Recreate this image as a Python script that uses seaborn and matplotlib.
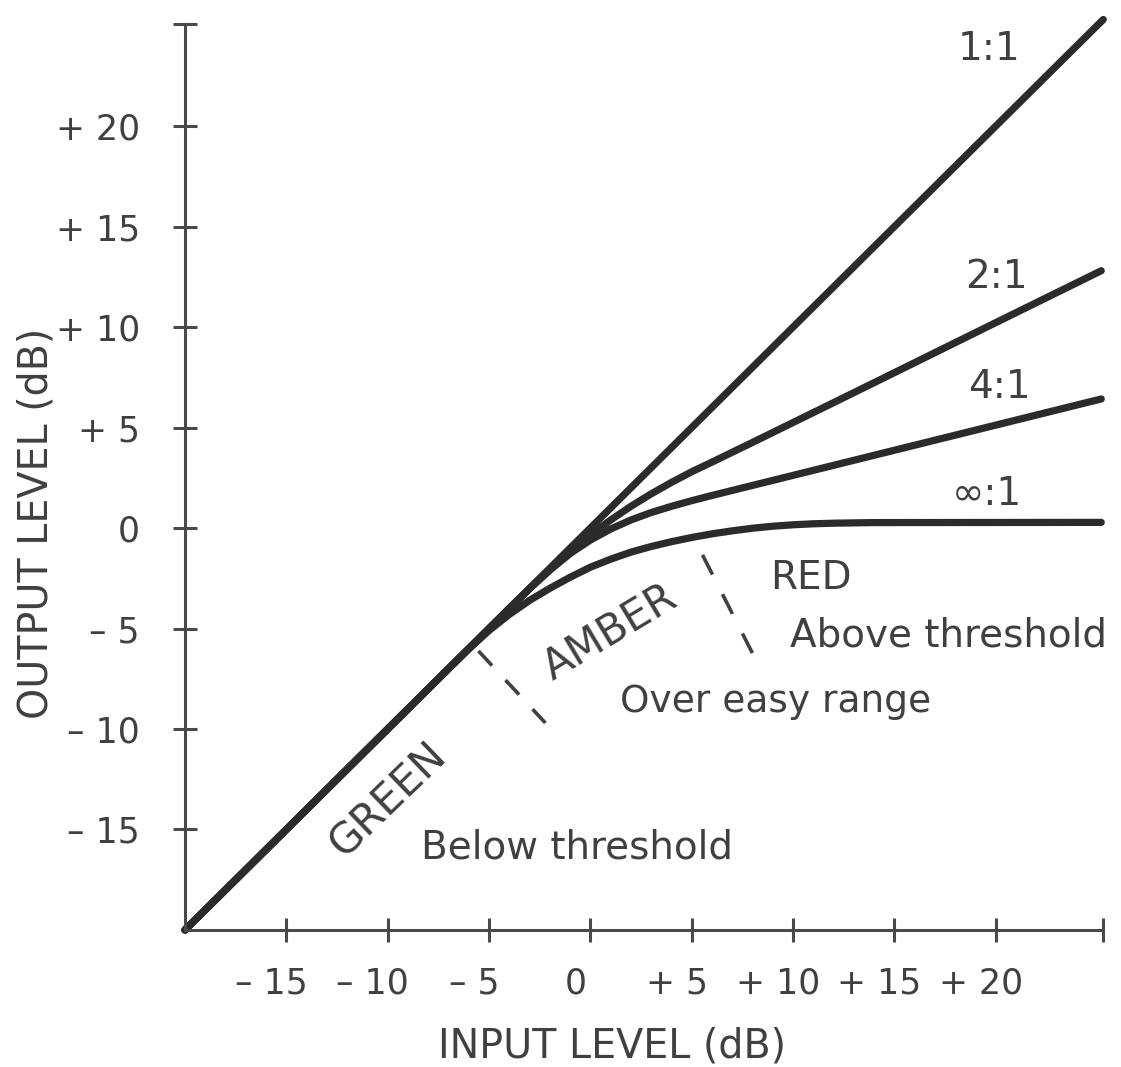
import matplotlib
matplotlib.use("Agg")
import matplotlib.pyplot as plt
import matplotlib.transforms as mtransforms
import pandas as pd
import seaborn as sns

# compressor transfer curves (input dB -> output dB)
in_1to1 = [-20, 25.3]
out_1to1 = [-20, 25.3]

in_2to1 = [-20, -4, -3, -2, -1, 0, 1, 2, 3, 4, 5, 6, 7, 8, 10, 12, 15, 20, 25.2]
out_2to1 = [-20, -4, -3.01, -2.06, -1.17, -0.35, 0.4, 1.08, 1.7, 2.27, 2.8, 3.28, 3.77, 4.26, 5.25, 6.24, 7.73, 10.22, 12.8]

in_4to1 = [-20, -4, -3, -2, -1, 0, 1, 2, 3, 4, 5, 6, 7, 8, 10, 12, 15, 20, 25.2]
out_4to1 = [-20, -4, -3.02, -2.1, -1.27, -0.6, -0.05, 0.4, 0.77, 1.08, 1.36, 1.62, 1.87, 2.12, 2.62, 3.12, 3.87, 5.12, 6.42]

in_inf = [-20, -7, -6, -5, -4, -3, -2, -1, 0, 1, 2, 3, 4, 5, 6, 7, 8, 9, 10, 11, 12, 14, 25.2]
out_inf = [-20, -7, -6.02, -5.1, -4.3, -3.6, -3.0, -2.45, -1.95, -1.55, -1.2, -0.92, -0.68, -0.47, -0.29, -0.14, -0.01, 0.09, 0.16, 0.21, 0.24, 0.27, 0.28]

# dashed region boundaries (green|amber, amber|red)
amber_edge_x = [-5.52, -2.22]
amber_edge_y = [-6.12, -9.7]
red_edge_x = [5.53, 7.99]
red_edge_y = [-1.34, -6.22]

x_ticks = [-15, -10, -5, 0, 5, 10, 15, 20]
x_tick_labels = ["– 15", "– 10", "– 5", "0", "+ 5", "+ 10", "+ 15", "+ 20"]
y_ticks = [-15, -10, -5, 0, 5, 10, 15, 20]
y_tick_labels = ["– 15", "– 10", "– 5", "0", "+ 5", "+ 10", "+ 15", "+ 20"]

INK = "#2b2b2b"
TEXT = "#404040"
AXIS = "#4a4a4a"

sns.set_theme(style="white")
plt.rcParams["font.family"] = ["DejaVu Sans"]

curves = pd.concat([
    pd.DataFrame({"input": in_1to1, "output": out_1to1, "ratio": "1:1"}),
    pd.DataFrame({"input": in_2to1, "output": out_2to1, "ratio": "2:1"}),
    pd.DataFrame({"input": in_4to1, "output": out_4to1, "ratio": "4:1"}),
    pd.DataFrame({"input": in_inf, "output": out_inf, "ratio": "∞:1"}),
], ignore_index=True)

fig = plt.figure(figsize=(11.21, 10.67), dpi=100)
ax = fig.add_axes([0.1650, 0.1284, 0.8228, 0.8571])

for ratio, grp in curves.groupby("ratio", sort=False):
    sns.lineplot(data=grp, x="input", y="output", color=INK, linewidth=5.2,
                 estimator=None, sort=False, ax=ax, clip_on=False,
                 solid_capstyle="round", solid_joinstyle="round")

sns.lineplot(x=amber_edge_x, y=amber_edge_y, color=TEXT, linewidth=2.6,
             linestyle=(0, (5.5, 5.5)), estimator=None, sort=False, ax=ax)
sns.lineplot(x=red_edge_x, y=red_edge_y, color=TEXT, linewidth=2.6,
             linestyle=(0, (6.1, 6.1)), estimator=None, sort=False, ax=ax)

ax.set_xlim(-20, 25.5)
ax.set_ylim(-20, 25.5)

# axes: only left and bottom, with crossing ticks and an end cap
sns.despine(ax=ax)
for side in ["left", "bottom"]:
    ax.spines[side].set_color(AXIS)
    ax.spines[side].set_linewidth(2.2)
ax.spines["left"].set_bounds(-20, 25.1)
ax.spines["bottom"].set_bounds(-20, 25.3)

ax.set_xticks(x_ticks + [25.3])
ax.set_xticklabels(x_tick_labels + [""])
ax.set_yticks(y_ticks + [25.1])
ax.set_yticklabels(y_tick_labels + [""])
ax.tick_params(axis="both", direction="inout", length=17, width=2.2,
               color=AXIS, labelcolor=TEXT, labelsize=25,
               bottom=True, left=True)
ax.tick_params(axis="x", pad=18)
ax.tick_params(axis="y", pad=24)
shift = mtransforms.ScaledTranslation(-0.15, 0, fig.dpi_scale_trans)
for lab in ax.get_xticklabels():
    lab.set_transform(lab.get_transform() + shift)

ax.set_xlabel("INPUT LEVEL (dB)", fontsize=28.5, color=TEXT)
ax.xaxis.set_label_coords(0.463, -0.106)
ax.set_ylabel("OUTPUT LEVEL (dB)", fontsize=28.5, color=TEXT, va="center")
ax.yaxis.set_label_coords(-0.1605, 0.445)

# ratio labels
for txt, x, y in [("1:1", 21.2, 23.3), ("2:1", 21.56, 11.94),
                  ("4:1", 21.71, 6.47), ("∞:1", 21.31, 1.14)]:
    ax.text(x, y, txt, fontsize=28, color=TEXT, ha="right", va="baseline")

# region labels
ax.text(-9.97, -13.53, "GREEN", fontsize=30, color=TEXT, rotation=44,
        rotation_mode="anchor", ha="center", va="center")
ax.text(0.99, -5.22, "AMBER", fontsize=30, color=TEXT, rotation=31,
        rotation_mode="anchor", ha="center", va="center")
ax.text(8.88, -3.05, "RED", fontsize=28, color=TEXT, ha="left", va="baseline")
ax.text(9.87, -5.92, "Above threshold", fontsize=28, color=TEXT, ha="left", va="baseline")
ax.text(1.48, -9.15, "Over easy range", fontsize=27, color=TEXT, ha="left", va="baseline")
ax.text(-8.34, -16.42, "Below threshold", fontsize=28, color=TEXT, ha="left", va="baseline")

fig.savefig("out.png", dpi=100, facecolor="white")
